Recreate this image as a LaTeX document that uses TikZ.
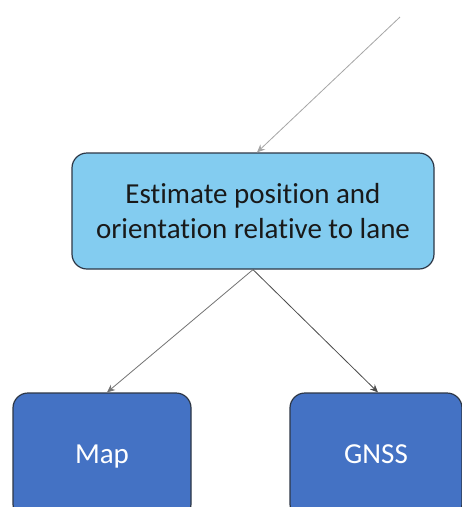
\documentclass[tikz,border=0pt]{standalone}
\usepackage{fontspec}
\setmainfont{Carlito}[Ligatures=CommonOff]
\usetikzlibrary{arrows.meta}
\definecolor{lightbox}{RGB}{131,204,240}
\definecolor{darkbox}{RGB}{68,114,196}
\definecolor{edgecol}{RGB}{45,55,70}
\definecolor{textcol}{RGB}{25,25,25}
\tikzset{
  boxbase/.style={draw=edgecol, line width=1.2pt, rounded corners=15pt, align=center, inner sep=0pt},
  topbox/.style={boxbase, fill=lightbox, text=textcol, minimum width=362pt, minimum height=116pt, font=\fontsize{29}{35}\selectfont},
  lowbox/.style={boxbase, fill=darkbox, text=white, minimum height=126pt, text height=20pt, text depth=6pt, font=\fontsize{29}{35}\selectfont},
  conn/.style={line width=0.8pt, -{Stealth[length=8pt,width=7pt]}},
}
\begin{document}
\begin{tikzpicture}[x=1pt,y=-1pt]
\useasboundingbox (0,0) rectangle (462,507);
\clip (0,0) rectangle (462,507);
\fill[white] (0,0) rectangle (462,507);
\node[topbox] (top) at (253,211) {Estimate position and\\orientation relative to lane};
\node[lowbox, minimum width=178pt] (map) at (102,456) {Map};
\node[lowbox, minimum width=172pt] (gnss) at (376,456) {GNSS};
\coordinate (src) at (400,17);
\draw[conn, color=gray!70] (src) -- ([xshift=4pt]top.north);
\draw[conn, color=gray!90!black] (top.south) -- ([xshift=5pt]map.north);
\draw[conn, color=gray!60!black] (top.south) -- ([xshift=2pt]gnss.north);
\end{tikzpicture}
\end{document}
